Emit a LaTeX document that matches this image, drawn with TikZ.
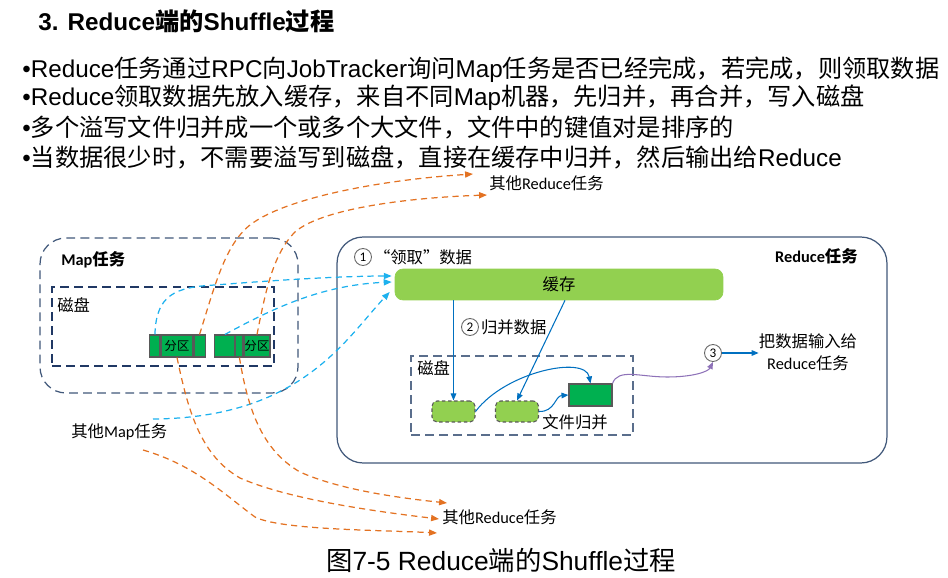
\documentclass[tikz,border=0pt]{standalone}
\usepackage{fontspec}
\usetikzlibrary{positioning,calc,arrows.meta}
\setmainfont{Carlito}
\newfontfamily\arialfont{Liberation Sans}
\newfontfamily\cjkfont{Noto Sans CJK SC}
\XeTeXinterchartokenstate=1
\newXeTeXintercharclass\cjkclass
\newcount\cjkc
\cjkc="4E00
\loop
  \XeTeXcharclass\cjkc=\cjkclass
  \advance\cjkc by 1
\ifnum\cjkc<"A000 \repeat
\XeTeXcharclass"FF0C=\cjkclass
\XeTeXcharclass"3001=\cjkclass
\XeTeXcharclass"201C=\cjkclass
\XeTeXcharclass"201D=\cjkclass
\XeTeXinterchartoks 0 \cjkclass = {\begingroup\cjkfont}
\XeTeXinterchartoks 4095 \cjkclass = {\begingroup\cjkfont}
\XeTeXinterchartoks \cjkclass 0 = {\endgroup}
\XeTeXinterchartoks \cjkclass 4095 = {\endgroup}
\definecolor{boxline}{HTML}{41587A}
\definecolor{mapdisk}{HTML}{203864}
\definecolor{reddisk}{HTML}{5A6E8C}
\definecolor{lgreen}{HTML}{92D050}
\definecolor{dgreen}{HTML}{00B050}
\definecolor{cellline}{HTML}{595959}
\definecolor{flowblue}{HTML}{0070C0}
\definecolor{skyblue}{HTML}{1DB1EE}
\definecolor{orangeline}{HTML}{E37222}
\definecolor{mergeline}{HTML}{8E72B8}
\tikzstyle{bullet} = [anchor=west, inner sep=0pt, font=\arialfont\fontsize{13.8}{16}\selectfont]
\tikzstyle{lbl} = [inner sep=0pt, font=\fontsize{9.3}{11}\selectfont]
\tikzstyle{taskbox} = [draw=boxline, line width=0.7pt, rounded corners=0.52cm, inner sep=0pt]
\tikzstyle{diskbox} = [draw=mapdisk, line width=0.7pt, dash pattern=on 5pt off 3pt, inner sep=0pt, minimum width=4.44cm, minimum height=1.58cm]
\tikzstyle{cell} = [draw=cellline, fill=dgreen, line width=0.6pt, minimum height=0.44cm, inner sep=0pt, font=\fontsize{7}{8}\selectfont]
\tikzstyle{spill} = [draw=cellline, fill=lgreen, line width=0.6pt, dash pattern=on 2pt off 1.5pt, rounded corners=0.1cm, minimum width=0.86cm, minimum height=0.42cm]
\tikzstyle{merged} = [draw=cellline, fill=dgreen, line width=0.6pt, minimum width=0.86cm, minimum height=0.44cm]
\tikzstyle{stepnum} = [circle, draw=gray!80!black, fill=white, line width=0.5pt, minimum size=0.34cm, inner sep=0pt, font=\fontsize{7.5}{8}\selectfont]
\tikzstyle{flow} = [draw=flowblue, line width=0.6pt, -{Triangle[length=4pt,width=3.2pt]}]
\tikzstyle{fetch} = [draw=skyblue, line width=0.7pt, dash pattern=on 3.5pt off 2.5pt, -{Triangle[length=4.5pt,width=3.5pt]}]
\tikzstyle{sendout} = [draw=orangeline, line width=0.7pt, dash pattern=on 3.5pt off 2.5pt, -{Triangle[length=4.5pt,width=3.5pt]}]

\begin{document}
\begin{tikzpicture}[x=0.02cm, y=-0.02cm]
	\useasboundingbox (0,0) rectangle (948,578);
	\node[anchor=west, inner sep=0pt, font=\arialfont\bfseries\fontsize{13.8}{16}\selectfont] (title) at (38,21) {3. Reduce端的Shuffle过程};
	\node[bullet] (b1) at (22,70) {•Reduce任务通过RPC向JobTracker询问Map任务是否已经完成，若完成，则领取数据};
	\node[bullet] (b2) at (22,98) {•Reduce领取数据先放入缓存，来自不同Map机器，先归并，再合并，写入磁盘};
	\node[bullet] (b3) at (22,128) {•多个溢写文件归并成一个或多个大文件，文件中的键值对是排序的};
	\node[bullet] (b4) at (22,157) {•当数据很少时，不需要溢写到磁盘，直接在缓存中归并，然后输出给Reduce};

	\node[taskbox, dash pattern=on 5pt off 3pt, minimum width=5.16cm, minimum height=3.1cm] (map) at (169,315.5) {};
	\node[lbl, anchor=west, font=\bfseries\fontsize{9.3}{11}\selectfont] (maplbl) at (61,260) {Map任务};
	\node[diskbox] (mapdisk) at (163,326.5) {};
	\node[lbl, anchor=west] (mapdisklbl) at (57,305) {磁盘};

	\node[taskbox, minimum width=11cm, minimum height=4.52cm] (reduce) at (612,350) {};
	\node[lbl, anchor=east, font=\bfseries\fontsize{9.3}{11}\selectfont] (redlbl) at (858,256) {Reduce任务};
	\node[diskbox, draw=reddisk] (reddisk) at (522,395.5) {};
	\node[lbl, anchor=west] (reddisklbl) at (417,368) {磁盘};
	\node[draw=lgreen, fill=lgreen, rounded corners=0.16cm, minimum width=6.56cm, minimum height=0.62cm, font=\fontsize{9.3}{11}\selectfont] (cache) at (559,284.5) {缓存};

	\node[stepnum] (c1) at (363,257) {1};
	\node[lbl, right=1pt of c1] (fetchlbl) {“领取”数据};
	\node[stepnum] (c2) at (470,327) {2};
	\node[lbl, right=1pt of c2] (mergelbl) {归并数据};
	\node[stepnum] (c3) at (713,353) {3};
	\node[lbl, align=center, font=\fontsize{9.3}{12.5}\selectfont] (feed) at (808,352) {把数据输入给\\Reduce任务};

	\node[spill] (r1) at (453.5,411.5) {};
	\node[spill] (r2) at (517,411.5) {};
	\node[merged] (dark) at (590.5,395) {};
	\node[lbl] (filelbl) at (575,422) {文件归并};

	\node[lbl, anchor=west] (othermap) at (71,432) {其他Map任务};
	\node[lbl, anchor=west] (otherred1) at (489,183) {其他Reduce任务};
	\node[lbl, anchor=west] (otherred2) at (442,517) {其他Reduce任务};

	\coordinate (ot1) at (473,174);
	\coordinate (ot2) at (487,195);
	\coordinate (ob1) at (447,503);
	\coordinate (ob2) at (439,519);
	\coordinate (ob3) at (437,533);
	\coordinate (cin1) at ($(cache.west)+(-3,-8.5)$);
	\coordinate (cin2) at ($(cache.west)+(-3,-2.5)$);
	\coordinate (cin3) at ($(cache.west)+(-5,7.5)$);
	\coordinate (mapout1) at (153,419);
	\coordinate (mapout2) at (143,450);

	\draw[sendout] (mapout2) .. controls (195,465) and (225,495) .. (255,517) .. controls (280,530) and (380,530) .. (ob3);
	\draw[fetch] (mapout1) .. controls (300,418) and (345,340) .. (cin3);

	\node[cell, minimum width=0.64cm] (p1b) at (177,346) {分区};
	\node[cell, minimum width=0.2cm, left=0pt of p1b] (p1a) {};
	\node[cell, minimum width=0.22cm, right=0pt of p1b] (p1c) {};
	\node[cell, minimum width=0.52cm] (p2c) at (257,346) {分区};
	\node[cell, minimum width=0.14cm, left=0pt of p2c] (p2b) {};
	\node[cell, minimum width=0.4cm, left=0pt of p2b] (p2a) {};

	\draw[fetch] (p1a.north) .. controls (156,295) and (175,287) .. (215,285) .. controls (290,279) and (350,276) .. (cin1);
	\draw[fetch] (p2a.north) .. controls (270,310) and (320,285) .. (cin2);
	\draw[sendout] (p1c.north) .. controls (215,285) and (225,245) .. (250,225) .. controls (285,198) and (380,180) .. (ot1);
	\draw[sendout] (p2c.north) .. controls (265,295) and (272,255) .. (295,232) .. controls (320,210) and (400,198) .. (ot2);
	\draw[sendout] (p1b.south) .. controls (188,410) and (200,455) .. (240,478) .. controls (290,500) and (380,512) .. (ob2);
	\draw[sendout] (p2b.south) .. controls (248,410) and (262,450) .. (300,472) .. controls (340,490) and (400,498) .. (ob1);

	\draw[flow] (cache.south -| r1.north) -- (r1.north);
	\draw[flow] ($(cache.south)+(6,0)$) -- (r2.north);
	\draw[flow] (r1.east) .. controls (505,372) and (585,355) .. (dark.north);
	\draw[flow] (r2.east) .. controls (555,412) and (555,396) .. (dark.west);
	\draw[draw=mergeline, line width=0.6pt, -{Triangle[length=4pt,width=3.2pt]}] (dark.north east) .. controls (618,368) and (640,377) .. (667,377) .. controls (692,377) and (708,372) .. (c3.south);
	\draw[flow] (c3.east) -- (c3.east -| feed.west);

	\node[font=\arialfont\fontsize{15}{18}\selectfont, inner sep=0pt] (caption) at (501,560) {图7-5 Reduce端的Shuffle过程};
\end{tikzpicture}
\end{document}
